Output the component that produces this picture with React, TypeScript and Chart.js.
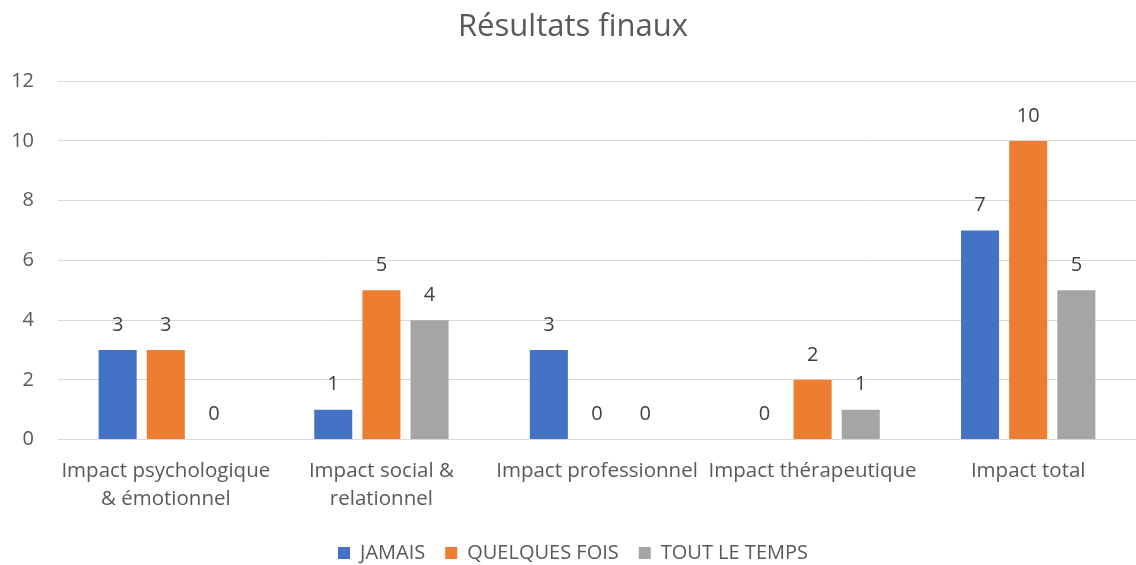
import React, { useEffect, useRef } from "react";
import { Chart, registerables } from "chart.js";

Chart.register(...registerables);

const categories: (string | string[])[] = [
  ["Impact psychologique", "& émotionnel"],
  ["Impact social &", "relationnel"],
  "Impact professionnel",
  "Impact thérapeutique",
  "Impact total",
];
const seriesNames = ["JAMAIS", "QUELQUES FOIS", "TOUT LE TEMPS"];
const jamais = [3, 1, 3, 0, 7];
const quelquesFois = [3, 5, 0, 2, 10];
const toutLeTemps = [0, 4, 0, 1, 5];
const colors = ["#4472C4", "#ED7D31", "#A5A5A5"];
const yTicks = [0, 2, 4, 6, 8, 10, 12];

const FONT = "'Open Sans', 'Liberation Sans', sans-serif";

const dataLabels = {
  id: "dataLabels",
  afterDatasetsDraw(chart: any) {
    const ctx = chart.ctx;
    ctx.save();
    ctx.font = `20px ${FONT}`;
    ctx.fillStyle = "#404040";
    ctx.textAlign = "center";
    ctx.textBaseline = "middle";
    chart.data.datasets.forEach((ds: any, i: number) => {
      const meta = chart.getDatasetMeta(i);
      meta.data.forEach((el: any, j: number) => {
        ctx.fillText(String(ds.data[j]), el.x, el.y - 25);
      });
    });
    ctx.restore();
  },
};

export default function App() {
  const ref = useRef<HTMLCanvasElement>(null);
  useEffect(() => {
    if (!ref.current) return;
    const series = [jamais, quelquesFois, toutLeTemps];
    const chart = new Chart(ref.current, {
      type: "bar",
      data: {
        labels: categories,
        datasets: series.map((d, i) => ({
          label: seriesNames[i],
          data: d,
          backgroundColor: colors[i],
          categoryPercentage: 0.67,
          barPercentage: 0.79,
        })),
      },
      options: {
        animation: false,
        responsive: true,
        maintainAspectRatio: false,
        layout: { padding: { left: 10, right: 0, top: 0, bottom: -8 } },
        plugins: {
          title: {
            display: true,
            text: "Résultats finaux",
            color: "#595959",
            font: { family: FONT, size: 31, weight: "normal" },
            padding: { top: 9, bottom: 35 },
          },
          legend: {
            position: "bottom",
            labels: {
              boxWidth: 12,
              boxHeight: 12,
              color: "#595959",
              font: { family: FONT, size: 20 },
              padding: 20,
            },
          },
          tooltip: { enabled: false },
        },
        scales: {
          x: {
            grid: { display: false },
            border: { display: false },
            ticks: {
              color: "#595959",
              font: { family: FONT, size: 20.5, lineHeight: 1.4 },
              autoSkip: false,
              maxRotation: 0,
              padding: 9,
            },
          },
          y: {
            min: 0,
            max: 12,
            afterBuildTicks: (scale: any) => {
              scale.ticks = yTicks.map((v) => ({ value: v }));
            },
            afterFit: (scale: any) => {
              scale.width = 48;
            },
            grid: { color: "#D9D9D9", lineWidth: 1, drawTicks: false },
            border: { display: false },
            ticks: {
              color: "#595959",
              font: { family: FONT, size: 20 },
              padding: 24,
            },
          },
        },
      },
      plugins: [dataLabels],
    });
    return () => chart.destroy();
  }, []);
  return (
    <div style={{ position: "absolute", left: 0, top: 0, width: 1136, height: 565, background: "#fff" }}>
      <canvas ref={ref} />
    </div>
  );
}
